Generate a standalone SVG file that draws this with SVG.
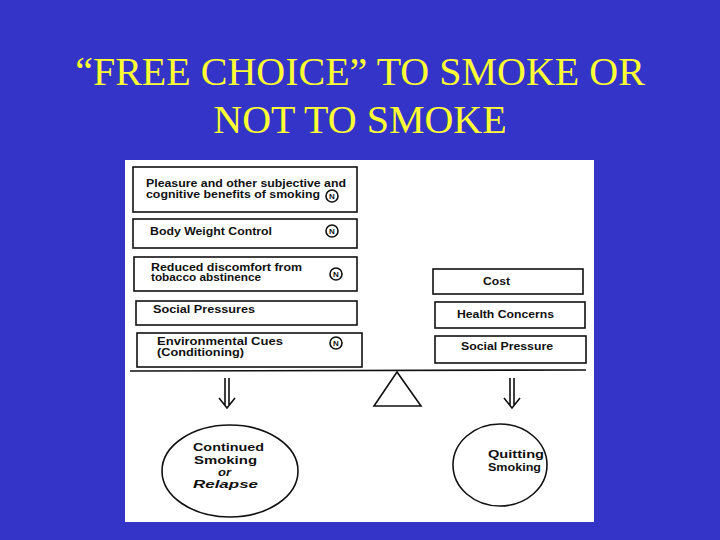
<svg xmlns="http://www.w3.org/2000/svg" width="720" height="540" viewBox="0 0 720 540">
<style>
.t{font-family:"Liberation Serif","Times New Roman",serif;font-size:40px;fill:#ffff33;text-anchor:middle}
.b{fill:#fff;stroke:#111;stroke-width:1.6}
.l{font-family:"Liberation Sans",Arial,sans-serif;font-weight:bold;font-size:10px;fill:#111}
.n{fill:#fff;stroke:#111;stroke-width:1.6}
.nt{font-family:"Liberation Sans",Arial,sans-serif;font-weight:bold;font-size:8px;fill:#111;text-anchor:middle}
.ln{stroke:#111;stroke-width:1.6;fill:none}
</style>
<rect width="720" height="540" fill="#3434c8"/>
<text class="t" x="360" y="85">“FREE CHOICE” TO SMOKE OR</text>
<text class="t" x="360" y="133">NOT TO SMOKE</text>
<rect x="125" y="160" width="469" height="362" fill="#fff"/>
<g id="pleasure"><rect class="b" x="133" y="167" width="224" height="45"/><text class="l" x="146" y="187" textLength="200" lengthAdjust="spacingAndGlyphs">Pleasure and other subjective and</text><text class="l" x="146" y="198" textLength="174" lengthAdjust="spacingAndGlyphs">cognitive benefits of smoking</text><circle class="n" cx="332" cy="196" r="6"/><text class="nt" x="332" y="199">N</text></g>
<g id="weight"><rect class="b" x="133" y="219" width="224" height="29"/><text class="l" x="150" y="235" textLength="122" lengthAdjust="spacingAndGlyphs">Body Weight Control</text><circle class="n" cx="332" cy="231" r="6"/><text class="nt" x="332" y="234">N</text></g>
<g id="discomfort"><rect class="b" x="134" y="257" width="223" height="34"/><text class="l" x="151" y="271" textLength="151" lengthAdjust="spacingAndGlyphs">Reduced discomfort from</text><text class="l" x="151" y="281" textLength="110" lengthAdjust="spacingAndGlyphs">tobacco abstinence</text><circle class="n" cx="336" cy="274" r="6"/><text class="nt" x="336" y="277">N</text></g>
<g id="social"><rect class="b" x="136" y="301" width="221" height="24"/><text class="l" x="153" y="313" textLength="102" lengthAdjust="spacingAndGlyphs">Social Pressures</text></g>
<g id="env"><rect class="b" x="137" y="333" width="225" height="34"/><text class="l" x="157" y="345" textLength="126" lengthAdjust="spacingAndGlyphs">Environmental Cues</text><text class="l" x="157" y="356" textLength="87" lengthAdjust="spacingAndGlyphs">(Conditioning)</text><circle class="n" cx="336" cy="343" r="6"/><text class="nt" x="336" y="346">N</text></g>
<g id="cost"><rect class="b" x="433" y="269" width="150" height="25"/><text class="l" x="483" y="285" textLength="27" lengthAdjust="spacingAndGlyphs">Cost</text></g>
<g id="health"><rect class="b" x="435" y="302" width="150" height="26"/><text class="l" x="457" y="318" textLength="97" lengthAdjust="spacingAndGlyphs">Health Concerns</text></g>
<g id="socialp"><rect class="b" x="435" y="336" width="151" height="27"/><text class="l" x="461" y="350" textLength="92" lengthAdjust="spacingAndGlyphs">Social Pressure</text></g>
<g id="scale"><line class="ln" x1="130" y1="371" x2="586" y2="370"/><polygon class="ln" points="397,372 374,406 421,406"/></g>
<g id="connectors">
<path class="ln" d="M225,378 V406 M229,378 V406 M219,398 L227,408 L235,398"/>
<path class="ln" d="M510,378 V406 M514,378 V406 M504,398 L512,408 L520,398"/>
</g>
<g id="continued"><ellipse class="ln" cx="230" cy="471" rx="68" ry="46"/><text class="l" x="193" y="451" textLength="71" lengthAdjust="spacingAndGlyphs">Continued</text><text class="l" x="194" y="464" textLength="63" lengthAdjust="spacingAndGlyphs">Smoking</text><text class="l" x="218" y="476" textLength="13" lengthAdjust="spacingAndGlyphs" font-style="italic">or</text><text class="l" x="193" y="488" textLength="65" lengthAdjust="spacingAndGlyphs" font-style="italic">Relapse</text></g>
<g id="quitting"><ellipse class="ln" cx="500" cy="465" rx="47" ry="41"/><text class="l" x="488" y="458" textLength="56" lengthAdjust="spacingAndGlyphs">Quitting</text><text class="l" x="488" y="471" textLength="53" lengthAdjust="spacingAndGlyphs">Smoking</text></g>
</svg>
